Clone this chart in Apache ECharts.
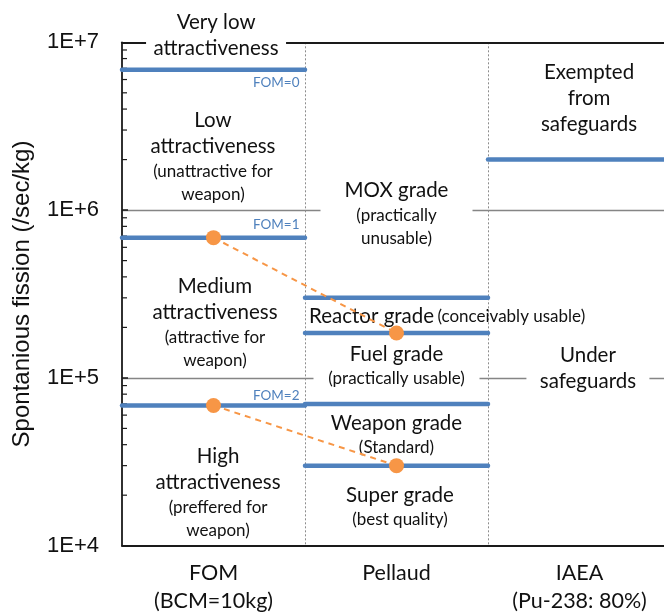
<!DOCTYPE html>
<html>
<head>
<meta charset="utf-8">
<script src="https://cdn.jsdelivr.net/npm/echarts@6/dist/echarts.min.js"></script>
<style>
  html, body { margin: 0; padding: 0; background: #fff; }
  #chart { width: 664px; height: 613px; }
</style>
</head>
<body>
<div id="chart"></div>
<script>
// Classification schemes along the horizontal axis
const categories = ['FOM\n(BCM=10kg)', 'Pellaud', 'IAEA\n(Pu-238: 80%)'];
const yTickLabels = { 4: '1E+4', 5: '1E+5', 6: '1E+6', 7: '1E+7' };

// Spontaneous fission boundaries (/sec/kg) for each scheme
const fomBounds = [6.85e6, 6.85e5, 6.85e4];            // FOM = 0, 1, 2
const pellaudBounds = [3.0e5, 1.85e5, 7.0e4, 3.0e4];
const iaeaBounds = [2.0e6];

// Matching points between the FOM and Pellaud scales
const linkFom = [6.85e5, 6.85e4];
const linkPellaud = [1.85e5, 3.0e4];

// Minor tick mantissas for each decade of the log axis
const minorMantissas = [2, 3, 4, 5, 6, 7, 8, 9];
const minorDecades = [1e4, 1e5, 1e6];

const BLUE = '#4F81BD';
const ORANGE = '#F79646';
const TEXT = '#111';
const LATO = 'Lato, "Open Sans", sans-serif';
const ARIAL = '"Liberation Sans", Arial, sans-serif';

const rich = {
  b: { fontFamily: LATO, fontSize: 20.5, lineHeight: 26, fill: TEXT },
  s: { fontFamily: LATO, fontSize: 17, lineHeight: 23, fill: TEXT },
  f: { fontFamily: LATO, fontSize: 13.5, lineHeight: 16, fill: BLUE }
};

// Region captions; x is in scheme units (0..3), e is log10 of the value
const notes = [
  { x: 0.514, e: 7.0405, text: '{b|Very low}\n{b|attractiveness}', box: [140, 50] },
  { x: 0.970, e: 6.760, text: '{f|FOM=0}', align: 'right' },
  { x: 0.497, e: 6.3176, text: '{b|Low}\n{b|attractiveness}\n{s|(unattractive for}\n{s|weapon)}' },
  { x: 0.970, e: 5.911, text: '{f|FOM=1}', align: 'right' },
  { x: 0.508, e: 5.3296, text: '{b|Medium}\n{b|attractiveness}\n{s|(attractive for}\n{s|weapon)}' },
  { x: 0.970, e: 4.895, text: '{f|FOM=2}', align: 'right' },
  { x: 0.525, e: 4.315, text: '{b|High}\n{b|attractiveness}\n{s|(preffered for}\n{s|weapon)}' },
  { x: 1.500, e: 5.979, text: '{b|MOX grade}\n{s|(practically}\n{s|unusable)}', box: [152, 70] },
  { x: 1.022, e: 5.368, text: '{b|Reactor grade} {s|(conceivably usable)}', align: 'left' },
  { x: 1.500, e: 5.0715, text: '{b|Fuel grade}\n{s|(practically usable)}', box: [166, 50] },
  { x: 1.500, e: 4.663, text: '{b|Weapon grade}\n{s|(Standard)}' },
  { x: 1.519, e: 4.232, text: '{b|Super grade}\n{s|(best quality)}' },
  { x: 2.552, e: 6.668, text: '{b|Exempted}\n{b|from}\n{b|safeguards}' },
  { x: 2.546, e: 5.056, text: '{b|Under}\n{b|safeguards}', box: [123, 50] }
];

const minorTicks = [];
minorDecades.forEach(d => minorMantissas.forEach(m => minorTicks.push([0, m * d])));

// One horizontal boundary per value, spanning its scheme's column
function boundarySeries(values, col) {
  return values.map(v => ({
    type: 'line',
    xAxisIndex: 1,
    yAxisIndex: 0,
    data: [[col, v], [col + 1, v]],
    symbol: 'none',
    silent: true,
    z: 4,
    lineStyle: { color: BLUE, width: 4.5, cap: 'round' }
  }));
}

function linkSeries(a, b) {
  return {
    type: 'line',
    xAxisIndex: 1,
    yAxisIndex: 0,
    data: [[0.5, a], [1.5, b]],
    symbol: 'circle',
    symbolSize: 15,
    silent: true,
    z: 6,
    itemStyle: { color: ORANGE, borderWidth: 0 },
    lineStyle: { color: ORANGE, width: 2, type: [6, 5] }
  };
}

const chart = echarts.init(document.getElementById('chart'), null, { renderer: 'canvas' });

chart.setOption({
  animation: false,
  backgroundColor: '#fff',
  grid: { left: 122, top: 42.3, right: -7, bottom: 67.3, containLabel: false, outerBoundsMode: 'none' },
  xAxis: [
    {
      type: 'category',
      data: categories,
      position: 'bottom',
      axisLine: { lineStyle: { color: '#1a1a1a', width: 1.8 } },
      axisTick: { show: false },
      axisLabel: { color: TEXT, fontFamily: LATO, fontSize: 21.5, lineHeight: 28, margin: 13 },
      splitLine: { show: false }
    },
    {
      type: 'value',
      min: 0,
      max: 3,
      interval: 1,
      position: 'top',
      axisLine: { show: true, onZero: false, lineStyle: { color: '#1a1a1a', width: 1.8 } },
      axisTick: { show: false },
      axisLabel: { show: false },
      splitLine: { show: true, showMinLine: false, lineStyle: { color: '#8c8c8c', width: 1, type: [2, 2] } }
    }
  ],
  yAxis: {
    type: 'log',
    logBase: 10,
    min: 1e4,
    max: 1e7,
    name: 'Spontanious fission (/sec/kg)',
    nameLocation: 'middle',
    nameGap: 88,
    nameTextStyle: { color: TEXT, fontFamily: ARIAL, fontSize: 24 },
    axisLine: { show: true, lineStyle: { color: '#1a1a1a', width: 1.8 } },
    axisTick: { show: true, inside: true, length: 6, lineStyle: { color: '#1a1a1a', width: 1.5 } },
    axisLabel: {
      color: TEXT, fontFamily: ARIAL, fontSize: 22, margin: 23,
      formatter: v => yTickLabels[Math.round(Math.log10(v))] || ''
    },
    splitLine: { show: true, showMinLine: false, showMaxLine: false, lineStyle: { color: '#858585', width: 1.4 } }
  },
  series: [
    // minor ticks of the log axis
    {
      type: 'custom',
      xAxisIndex: 1,
      yAxisIndex: 0,
      silent: true,
      z: 3,
      data: minorTicks,
      renderItem: (params, api) => {
        const p = api.coord([api.value(0), api.value(1)]);
        return {
          type: 'line',
          shape: { x1: p[0], y1: p[1], x2: p[0] + 5, y2: p[1] },
          style: { stroke: '#1a1a1a', lineWidth: 1.2 }
        };
      }
    },
    // captions (some carry a white backing that interrupts the gridlines)
    {
      type: 'custom',
      xAxisIndex: 1,
      yAxisIndex: 0,
      silent: true,
      clip: false,
      z: 3,
      data: notes.map((n, i) => [n.x, Math.pow(10, n.e), i]),
      renderItem: (params, api) => {
        const n = notes[api.value(2)];
        const p = api.coord([api.value(0), api.value(1)]);
        const children = [];
        if (n.box) {
          children.push({
            type: 'rect',
            shape: { x: p[0] - n.box[0] / 2, y: p[1] - n.box[1] / 2, width: n.box[0], height: n.box[1] },
            style: { fill: '#fff' }
          });
        }
        children.push({
          type: 'text',
          x: p[0],
          y: p[1],
          style: { text: n.text, rich: rich, align: n.align || 'center', verticalAlign: 'middle', fill: TEXT }
        });
        return { type: 'group', children: children };
      }
    },
    ...boundarySeries(fomBounds, 0),
    ...boundarySeries(pellaudBounds, 1),
    ...boundarySeries(iaeaBounds, 2),
    linkSeries(linkFom[0], linkPellaud[0]),
    linkSeries(linkFom[1], linkPellaud[1])
  ]
});
</script>
</body>
</html>
